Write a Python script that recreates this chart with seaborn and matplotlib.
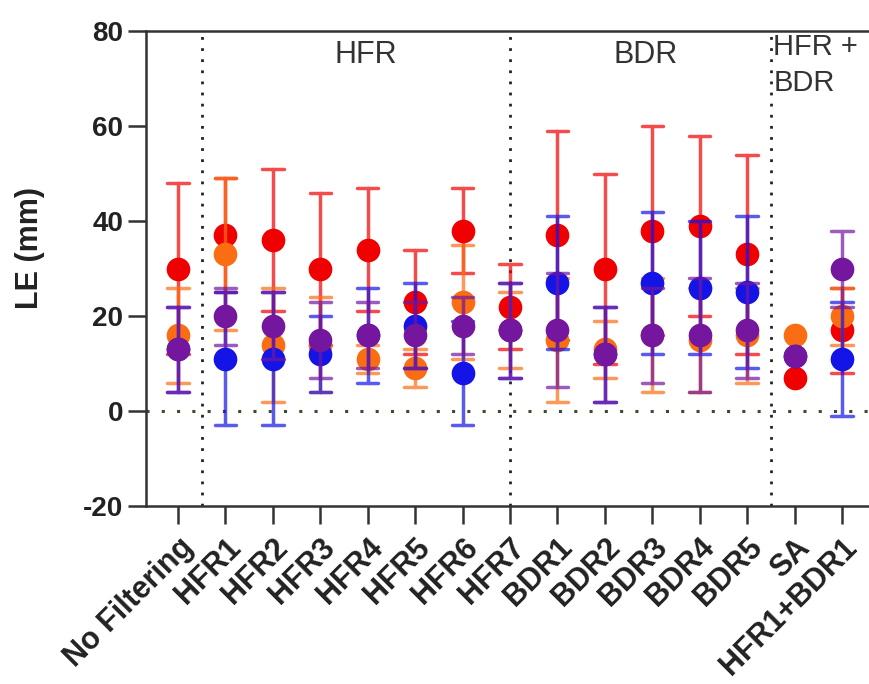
import numpy as np
import pandas as pd
import seaborn as sns
import matplotlib.pyplot as plt


# filtering methods on the x axis
categories = ['No Filtering', 'HFR1', 'HFR2', 'HFR3', 'HFR4', 'HFR5', 'HFR6',
              'HFR7', 'BDR1', 'BDR2', 'BDR3', 'BDR4', 'BDR5', 'SA', 'HFR1+BDR1']

# mean and SD of LE (mm) for every series
red_mean = [30, 37, 36, 30, 34, 23, 38, 22, 37, 30, 38, 39, 33, 7, 17]
red_sd = [18, 12, 15, 16, 13, 11, 9, 9, 22, 20, 22, 19, 21, np.nan, 9]

orange_mean = [16, 33, 14, 14, 11, 9, 23, 17, 15, 13, 16, 15, 16, 16, 20]
orange_sd = [10, 16, 12, 10, 3, 4, 12, 8, 13, 6, 12, 11, 10, np.nan, 6]

blue_mean = [13, 11, 11, 12, 16, 18, 8, 17, 27, 12, 27, 26, 25, 11.5, 11]
blue_sd = [9, 14, 14, 8, 10, 9, 11, 10, 14, 10, 15, 14, 16, np.nan, 12]

purple_mean = [13, 20, 18, 15, 16, 16, 18, 17, 17, 12, 16, 16, 17, 11.5, 30]
purple_sd = [9, 6, 7, 8, 7, 7, 6, 10, 12, 10, 10, 12, 10, np.nan, 8]

# group labels at the top of the plot
group_labels = ['HFR', 'BDR', 'HFR +\nBDR']


# bar from the lowest to the highest value; SA has no spread
def spread(values):
    if len(values) < 2:
        return (np.nan, np.nan)
    return (values.min(), values.max())


# mean, mean - SD and mean + SD rows, so the median is the mean
def long_form(mean, sd):
    rows = []
    for cat, m, s in zip(categories, mean, sd):
        rows.append((cat, m))
        if not np.isnan(s):
            rows.append((cat, m - s))
            rows.append((cat, m + s))
    return pd.DataFrame(rows, columns=['method', 'LE'])


def main():
    sns.set_theme(style='ticks')
    plt.rcParams['font.family'] = ['Liberation Sans', 'DejaVu Sans']
    plt.rcParams['axes.unicode_minus'] = False

    fig = plt.figure(figsize=(8.69, 6.84), dpi=100)
    ax = fig.add_axes([0.168, 0.260, 0.832, 0.6947])

    series = [(red_mean, red_sd, '#f00000'),
              (orange_mean, orange_sd, '#fb6d12'),
              (blue_mean, blue_sd, '#1414e6'),
              (purple_mean, purple_sd, '#74169e')]

    for mean, sd, color in series:
        sns.pointplot(data=long_form(mean, sd), x='method', y='LE',
                      order=categories, estimator='median', errorbar=spread,
                      color=color, linestyle='none', marker='o', markersize=15,
                      capsize=0.45, err_kws={'linewidth': 2.5, 'alpha': 0.7},
                      ax=ax)

    # reference lines
    ax.axhline(0, color='#3e4a2a', linestyle=(0, (1, 4)), linewidth=2.2, zorder=1)
    for xpos in [0.5, 7, 12.5]:
        ax.axvline(xpos, color='#222222', linestyle=(0, (1, 3)), linewidth=2, zorder=1)

    ax.text(3.95, 75, group_labels[0], ha='center', va='center', fontsize=22, color='#333333')
    ax.text(9.85, 75, group_labels[1], ha='center', va='center', fontsize=22, color='#333333')
    ax.text(12.55, 79.5, group_labels[2], ha='left', va='top', fontsize=21,
            color='#333333', linespacing=1.35)

    ax.set_xlim(-0.675, 14.57)
    ax.set_ylim(-20, 80)
    ax.set_yticks(range(-20, 81, 20))
    ax.set_xlabel('')
    ax.set_ylabel('')
    fig.text(30 / 869, 1 - 248 / 684, 'LE (mm)', rotation=90, ha='center', va='center',
             fontsize=22, fontweight='bold', color='#222222')

    sns.despine(ax=ax, top=False, right=True)
    for side in ['left', 'bottom', 'top']:
        ax.spines[side].set_linewidth(1.8)
        ax.spines[side].set_color('#333333')

    ax.tick_params(axis='both', length=13, width=1.8, color='#333333',
                   labelcolor='#222222')
    ax.tick_params(axis='y', labelsize=20)
    ax.tick_params(axis='x', labelsize=22, pad=6)
    for lbl in ax.get_yticklabels():
        lbl.set_fontweight('bold')
    for lbl in ax.get_xticklabels():
        lbl.set_fontweight('bold')
        lbl.set_rotation(45)
        lbl.set_ha('right')
        lbl.set_rotation_mode('anchor')

    fig.savefig('out.png', dpi=100)


if __name__ == '__main__':
    main()
